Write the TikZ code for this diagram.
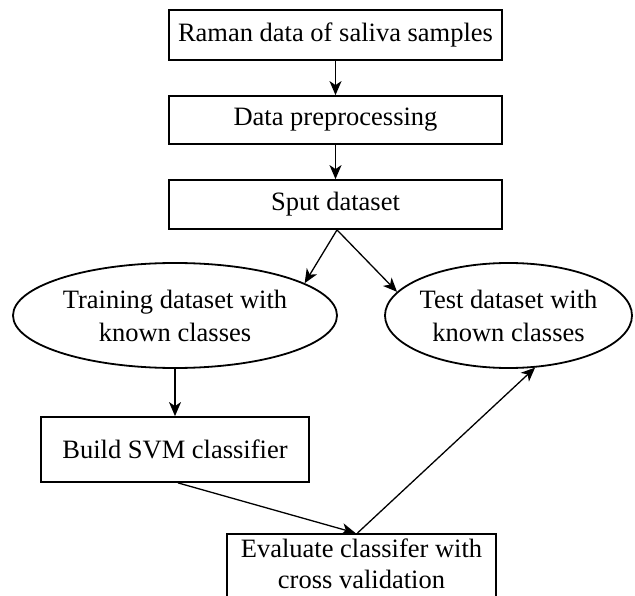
\documentclass[tikz,border=0pt]{standalone}
\usepackage{fontspec}
\setmainfont{Liberation Serif}
\usetikzlibrary{shapes.geometric,arrows.meta}

\tikzset{
  lbl/.style={font=\fontsize{26.5}{33}\selectfont, align=center},
  stepbox/.style={draw, line width=1.8pt, rectangle, inner sep=0pt, lbl},
  setoval/.style={draw, line width=1.8pt, ellipse, inner xsep=-10pt, inner ysep=0pt, lbl},
  flow/.style={line width=1.3pt, -{Stealth[length=14pt,width=12pt,inset=4pt]}}
}

\begin{document}
\begin{tikzpicture}[x=1pt,y=-1pt]
  \useasboundingbox (0,0) rectangle (635,596);

  % pipeline boxes
  \node[stepbox, minimum width=333pt, minimum height=50pt] (raw) at (335.5,35) {Raman data of saliva samples};
  \node[stepbox, minimum width=333pt, minimum height=48pt] (prep) at (335.5,120) {Data preprocessing};
  \node[stepbox, minimum width=333pt, minimum height=49pt] (split) at (335.5,204.5) {Sput dataset};

  % data subsets
  \node[setoval, minimum width=324pt, minimum height=105pt] (train) at (175,315.5) {Training dataset with\\known classes};
  \node[setoval, minimum width=247pt, minimum height=105pt] (test) at (508.5,315.5) {Test dataset with\\known classes};

  % model and evaluation
  \node[stepbox, minimum width=268pt, minimum height=65pt] (svm) at (175,449.5) {Build SVM classifier};
  \node[stepbox, minimum width=269pt, minimum height=80pt, anchor=north] (eval) at (361.5,533) {};
  \node[lbl, font=\fontsize{26.5}{31}\selectfont, inner sep=0pt, anchor=north] (evaltext) at (361.5,539)
    {Evaluate classifer with\\cross validation};

  % connectors
  \draw[flow] (raw.south) -- (prep.north);
  \draw[flow] (prep.south) -- (split.north);
  \draw[flow] ([xshift=1.5pt]split.south) -- (train.14);
  \draw[flow] ([xshift=1.5pt]split.south) -- (test.168);
  \draw[flow] (train.south) -- (svm.north);
  \draw[flow] ([xshift=3pt]svm.south) -- ([xshift=-6pt]eval.north);
  \draw[flow] ([xshift=-4pt]eval.north) -- (test.-63);
\end{tikzpicture}
\end{document}
